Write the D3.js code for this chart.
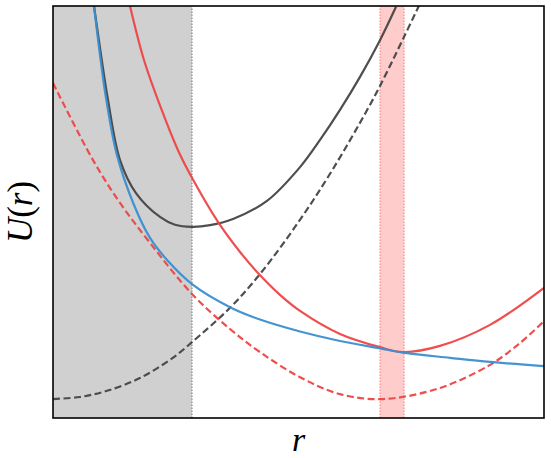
<!DOCTYPE html>
<html>
<head>
<meta charset="utf-8">
<script src="https://cdn.jsdelivr.net/npm/d3@7"></script>
<style>
  body { margin: 0; background: #fff; }
</style>
</head>
<body>
<svg id="canvas" width="551" height="458"></svg>
<script>
// values (r, U) in arbitrary units
let repulsive = [[0.835,10.0],[0.957,8.81],[1.079,7.77],[1.303,6.38],[1.650,5.17],[1.976,4.37],[2.342,3.81],[2.831,3.25],
    [3.605,2.69],[4.216,2.39],[5.031,2.10],[5.845,1.87],[6.660,1.69],[7.169,1.58],[8.086,1.46],[8.900,1.36],[10.0,1.26]]
let totalTrap = [[0.835,10.0],[0.978,8.81],[1.120,7.72],[1.365,6.26],[1.690,5.46],[2.179,4.88],[2.485,4.69],[2.831,4.64],
    [3.198,4.68],[3.666,4.83],[4.358,5.27],[5.031,6.09],[5.438,6.75],[5.845,7.48],[6.253,8.28],[6.660,9.17],[6.986,9.98]]
let trap = [[0,0.46],[0.55,0.51],[1.10,0.66],[1.77,0.97],[2.44,1.46],[2.83,1.84],[3.60,2.67],[4.22,3.50],
    [5.03,4.81],[5.70,6.04],[6.40,7.48],[6.66,8.06],[7.17,9.30],[7.47,10.05]]
let shifted = [[0,8.13],[0.815,6.26],[1.365,5.22],[1.976,4.25],[2.831,3.01],[3.605,2.16],[4.216,1.60],[5.031,0.99],
    [5.845,0.58],[6.721,0.46],[7.882,0.73],[8.900,1.29],[9.511,1.82],[10.0,2.35]]
let totalShifted = [[1.568,10.0],[1.853,8.69],[2.200,7.52],[2.546,6.50],[2.831,5.83],[3.360,4.76],[3.809,4.03],[4.175,3.52],
    [4.623,2.99],[5.031,2.60],[5.845,2.04],[6.660,1.72],[7.128,1.60],[7.882,1.75],[8.900,2.26],[10.0,3.16]]

let forbidden = [0, 2.83]
let band = [6.66, 7.15]

let svg = d3.select('#canvas')

let x = d3.scaleLinear().domain([0, 10]).range([53, 544])
let y = d3.scaleLinear().domain([0, 10]).range([418, 6])

svg.append('clipPath').attr('id', 'plot')
    .append('rect')
    .attr('x', x(0)).attr('y', y(10))
    .attr('width', x(10) - x(0)).attr('height', y(0) - y(10))

let g = svg.append('g').attr('clip-path', 'url(#plot)')

// shaded regions
g.append('rect')
    .attr('x', x(forbidden[0])).attr('y', y(10))
    .attr('width', x(forbidden[1]) - x(forbidden[0])).attr('height', y(0) - y(10))
    .attr('fill', '#d0d0d0')
g.append('line')
    .attr('x1', x(forbidden[1])).attr('x2', x(forbidden[1]))
    .attr('y1', y(0)).attr('y2', y(10))
    .attr('stroke', '#888').attr('stroke-width', 1.2).attr('stroke-dasharray', '1.5,1.5')

g.append('rect')
    .attr('x', x(band[0])).attr('y', y(10))
    .attr('width', x(band[1]) - x(band[0])).attr('height', y(0) - y(10))
    .attr('fill', '#ffcccc')
band.forEach((b) => {
    g.append('line')
        .attr('x1', x(b)).attr('x2', x(b))
        .attr('y1', y(0)).attr('y2', y(10))
        .attr('stroke', '#ff8c8c').attr('stroke-width', 1.2).attr('stroke-dasharray', '1.5,1.5')
})

let line = d3.line()
    .x((d) => x(d[0]))
    .y((d) => y(d[1]))
    .curve(d3.curveCatmullRom.alpha(0.5))

let curves = [
    {data: trap, color: '#444444', dash: '7,3.5'},
    {data: shifted, color: '#ee4444', dash: '7,3.5'},
    {data: totalTrap, color: '#444444', dash: null},
    {data: totalShifted, color: '#ee4444', dash: null},
    {data: repulsive, color: '#3a8ed0', dash: null}
]

curves.forEach((c) => {
    g.append('path')
        .attr('d', line(c.data))
        .attr('fill', 'none')
        .attr('stroke', c.color)
        .attr('stroke-width', 2.2)
        .attr('stroke-opacity', 0.95)
        .attr('stroke-dasharray', c.dash)
})

// frame
svg.append('rect')
    .attr('x', x(0)).attr('y', y(10))
    .attr('width', x(10) - x(0)).attr('height', y(0) - y(10))
    .attr('fill', 'none').attr('stroke', '#000').attr('stroke-width', 1.6)

// axis labels
svg.append('text')
    .attr('x', (x(0) + x(10)) / 2).attr('y', 451)
    .attr('text-anchor', 'middle')
    .style('font-family', '"Liberation Serif", "DejaVu Serif", serif')
    .style('font-size', '34px')
    .style('font-style', 'italic')
    .text('r')

let yl = svg.append('text')
    .attr('transform', 'translate(32,' + ((y(0) + y(10)) / 2) + ') rotate(-90)')
    .attr('text-anchor', 'middle')
    .style('font-family', '"Liberation Serif", "DejaVu Serif", serif')
    .style('font-size', '35px')
yl.append('tspan').style('font-style', 'italic').text('U')
yl.append('tspan').text('(')
yl.append('tspan').style('font-style', 'italic').text('r')
yl.append('tspan').text(')')
</script>
</body>
</html>
